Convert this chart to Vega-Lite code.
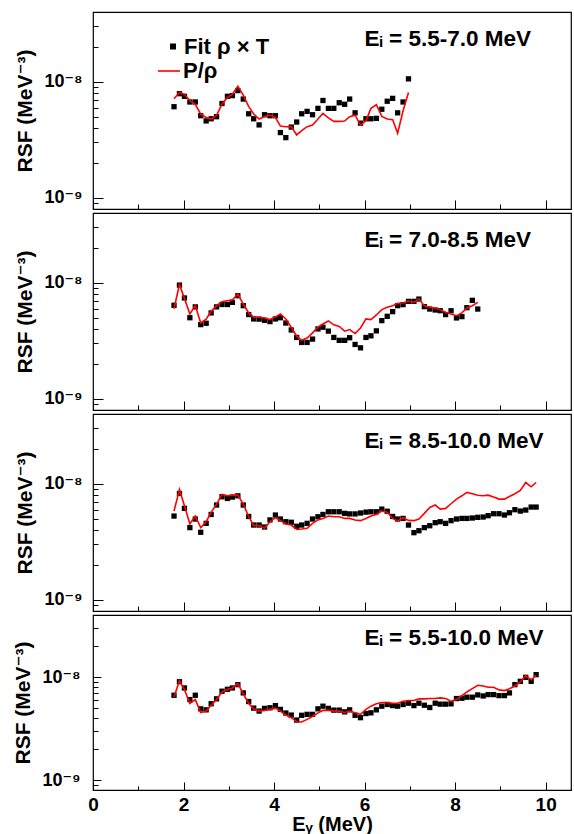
{
"$schema": "https://vega.github.io/schema/vega-lite/v6.json",
"padding": {"left": 12, "top": 10, "right": 0, "bottom": 0},
"autosize": {"type": "pad"},
"spacing": 0,
"config": {
  "view": {"stroke": "black", "strokeWidth": 1.2},
  "font": "Liberation Sans, DejaVu Sans, sans-serif",
  "axis": {"grid": false, "domain": false, "labelColor": "black", "titleColor": "black", "labelFontWeight": "bold", "titleFontWeight": "bold", "tickColor": "black", "tickWidth": 1, "labelOverlap": false}
},
"resolve": {"legend": {"color": "independent", "shape": "independent"}},
"datasets": {
"d1": [
{"E":1.79,"f":6.1e-9,"r":7.14e-9},{"E":1.91,"f":7.9e-9,"r":8.1e-9},{"E":2.02,"f":7.5e-9,"r":7.8e-9},{"E":2.14,"f":6.7e-9,"r":6.9e-9},{"E":2.26,"f":6.7e-9,"r":6.4e-9},{"E":2.38,"f":5.1e-9,"r":5.27e-9},{"E":2.50,"f":4.6e-9,"r":4.93e-9},{"E":2.61,"f":4.8e-9,"r":4.77e-9},{"E":2.73,"f":5.0e-9,"r":5.14e-9},{"E":2.85,"f":6.5e-9,"r":6.43e-9},{"E":2.97,"f":7.5e-9,"r":7.33e-9},{"E":3.08,"f":7.6e-9,"r":7.83e-9},{"E":3.20,"f":8.4e-9,"r":9.18e-9},{"E":3.32,"f":7.1e-9,"r":7.68e-9},{"E":3.44,"f":5.3e-9,"r":6.1e-9},{"E":3.55,"f":4.8e-9,"r":5.27e-9},{"E":3.67,"f":4.25e-9,"r":4.78e-9},{"E":3.79,"f":5.2e-9,"r":5.03e-9},{"E":3.91,"f":5.1e-9,"r":5.16e-9},{"E":4.03,"f":5.1e-9,"r":4.93e-9},{"E":4.14,"f":3.65e-9,"r":4.15e-9},{"E":4.26,"f":3.3e-9,"r":4.1e-9},{"E":4.38,"f":4.07e-9,"r":4.12e-9},{"E":4.50,"f":4.5e-9,"r":3.48e-9},{"E":4.61,"f":5.3e-9,"r":3.79e-9},{"E":4.73,"f":5.56e-9,"r":4.1e-9},{"E":4.85,"f":5.2e-9,"r":4.24e-9},{"E":4.97,"f":5.9e-9,"r":4.78e-9},{"E":5.08,"f":6.9e-9,"r":5.34e-9},{"E":5.20,"f":5.9e-9,"r":4.88e-9},{"E":5.32,"f":5.9e-9,"r":4.56e-9},{"E":5.44,"f":6.6e-9,"r":4.56e-9},{"E":5.56,"f":6.4e-9,"r":4.59e-9},{"E":5.67,"f":7.1e-9,"r":5.0e-9},{"E":5.79,"f":5.4e-9,"r":5.16e-9},{"E":5.91,"f":4.4e-9,"r":4.24e-9},{"E":6.03,"f":4.8e-9,"r":4.62e-9},{"E":6.14,"f":4.8e-9,"r":5.9e-9},{"E":6.26,"f":4.84e-9,"r":6.34e-9},{"E":6.38,"f":5.8e-9,"r":5.03e-9},{"E":6.50,"f":6.8e-9,"r":4.78e-9},{"E":6.62,"f":7.2e-9,"r":4.71e-9},{"E":6.73,"f":5.4e-9,"r":3.6e-9},{"E":6.85,"f":6.7e-9,"r":5.63e-9},{"E":6.97,"f":1.06e-8,"r":8.1e-9}
],
"d2": [
{"E":1.79,"f":6.4e-9,"r":5.98e-9},{"E":1.91,"f":9.55e-9,"r":9.68e-9},{"E":2.02,"f":7.4e-9,"r":7.34e-9},{"E":2.14,"f":5.0e-9,"r":5.38e-9},{"E":2.26,"f":6.2e-9,"r":6.35e-9},{"E":2.38,"f":4.36e-9,"r":4.51e-9},{"E":2.50,"f":4.48e-9,"r":4.85e-9},{"E":2.61,"f":5.5e-9,"r":5.68e-9},{"E":2.73,"f":6.2e-9,"r":6.35e-9},{"E":2.85,"f":6.5e-9,"r":6.87e-9},{"E":2.97,"f":6.5e-9,"r":7.01e-9},{"E":3.08,"f":6.78e-9,"r":7.15e-9},{"E":3.20,"f":7.74e-9,"r":8.0e-9},{"E":3.32,"f":6.35e-9,"r":6.56e-9},{"E":3.44,"f":5.32e-9,"r":5.5e-9},{"E":3.55,"f":4.88e-9,"r":5.05e-9},{"E":3.67,"f":4.86e-9,"r":5.05e-9},{"E":3.79,"f":4.75e-9,"r":4.98e-9},{"E":3.91,"f":4.63e-9,"r":4.82e-9},{"E":4.03,"f":4.88e-9,"r":5.08e-9},{"E":4.14,"f":5.0e-9,"r":5.38e-9},{"E":4.26,"f":4.5e-9,"r":4.88e-9},{"E":4.38,"f":3.92e-9,"r":4.14e-9},{"E":4.50,"f":3.38e-9,"r":3.47e-9},{"E":4.61,"f":3.06e-9,"r":3.19e-9},{"E":4.73,"f":3.06e-9,"r":3.34e-9},{"E":4.85,"f":3.27e-9,"r":3.7e-9},{"E":4.97,"f":4.0e-9,"r":4.14e-9},{"E":5.08,"f":4.14e-9,"r":4.42e-9},{"E":5.20,"f":3.83e-9,"r":4.69e-9},{"E":5.32,"f":3.38e-9,"r":4.34e-9},{"E":5.44,"f":3.19e-9,"r":4.2e-9},{"E":5.56,"f":3.19e-9,"r":3.83e-9},{"E":5.67,"f":3.36e-9,"r":3.95e-9},{"E":5.79,"f":2.94e-9,"r":3.65e-9},{"E":5.91,"f":2.75e-9,"r":4.08e-9},{"E":6.03,"f":3.38e-9,"r":4.88e-9},{"E":6.14,"f":3.49e-9,"r":4.82e-9},{"E":6.26,"f":3.85e-9,"r":5.28e-9},{"E":6.38,"f":4.72e-9,"r":5.87e-9},{"E":6.50,"f":5.14e-9,"r":6.15e-9},{"E":6.62,"f":5.64e-9,"r":6.35e-9},{"E":6.73,"f":6.35e-9,"r":6.65e-9},{"E":6.85,"f":6.48e-9,"r":6.7e-9},{"E":6.97,"f":6.92e-9,"r":6.97e-9},{"E":7.09,"f":6.92e-9,"r":6.78e-9},{"E":7.20,"f":7.24e-9,"r":7.24e-9},{"E":7.32,"f":6.23e-9,"r":6.35e-9},{"E":7.44,"f":5.94e-9,"r":6.15e-9},{"E":7.56,"f":5.83e-9,"r":6.03e-9},{"E":7.67,"f":5.75e-9,"r":5.87e-9},{"E":7.79,"f":5.32e-9,"r":5.57e-9},{"E":7.91,"f":5.74e-9,"r":5.38e-9},{"E":8.03,"f":4.98e-9,"r":5.21e-9},{"E":8.15,"f":5.11e-9,"r":5.5e-9},{"E":8.26,"f":6.1e-9,"r":6.07e-9},{"E":8.38,"f":7.06e-9,"r":6.35e-9},{"E":8.50,"f":5.94e-9,"r":6.78e-9}
],
"d3": [
{"E":1.79,"f":5.27e-9,"r":5.82e-9},{"E":1.91,"f":8.26e-9,"r":8.94e-9},{"E":2.02,"f":6.14e-9,"r":6.47e-9},{"E":2.14,"f":4.19e-9,"r":4.5e-9},{"E":2.26,"f":4.97e-9,"r":5.27e-9},{"E":2.38,"f":3.82e-9,"r":4.19e-9},{"E":2.50,"f":4.56e-9,"r":4.71e-9},{"E":2.61,"f":5.44e-9,"r":5.68e-9},{"E":2.73,"f":6.56e-9,"r":6.68e-9},{"E":2.85,"f":7.73e-9,"r":8.1e-9},{"E":2.97,"f":7.48e-9,"r":7.88e-9},{"E":3.08,"f":7.68e-9,"r":7.98e-9},{"E":3.20,"f":7.88e-9,"r":7.98e-9},{"E":3.32,"f":6.56e-9,"r":6.68e-9},{"E":3.44,"f":5.23e-9,"r":5.2e-9},{"E":3.55,"f":4.41e-9,"r":4.36e-9},{"E":3.67,"f":4.41e-9,"r":4.36e-9},{"E":3.79,"f":4.24e-9,"r":4.13e-9},{"E":3.91,"f":4.88e-9,"r":4.71e-9},{"E":4.03,"f":5.38e-9,"r":5.1e-9},{"E":4.14,"f":4.97e-9,"r":4.81e-9},{"E":4.26,"f":4.71e-9,"r":4.5e-9},{"E":4.38,"f":4.66e-9,"r":4.41e-9},{"E":4.50,"f":4.3e-9,"r":4.04e-9},{"E":4.61,"f":4.41e-9,"r":4.07e-9},{"E":4.73,"f":4.56e-9,"r":4.13e-9},{"E":4.85,"f":4.97e-9,"r":4.56e-9},{"E":4.97,"f":5.2e-9,"r":4.88e-9},{"E":5.08,"f":5.44e-9,"r":5.03e-9},{"E":5.20,"f":5.74e-9,"r":5.27e-9},{"E":5.32,"f":5.74e-9,"r":5.2e-9},{"E":5.44,"f":5.74e-9,"r":5.2e-9},{"E":5.56,"f":5.56e-9,"r":5.03e-9},{"E":5.67,"f":5.5e-9,"r":5.03e-9},{"E":5.79,"f":5.5e-9,"r":4.88e-9},{"E":5.91,"f":5.6e-9,"r":4.81e-9},{"E":6.03,"f":5.7e-9,"r":5.03e-9},{"E":6.14,"f":5.74e-9,"r":5.27e-9},{"E":6.26,"f":5.74e-9,"r":5.44e-9},{"E":6.38,"f":6.05e-9,"r":5.82e-9},{"E":6.50,"f":5.8e-9,"r":5.68e-9},{"E":6.62,"f":5.23e-9,"r":5.03e-9},{"E":6.73,"f":4.97e-9,"r":4.78e-9},{"E":6.85,"f":5.03e-9,"r":5.1e-9},{"E":6.97,"f":4.41e-9,"r":4.84e-9},{"E":7.09,"f":3.79e-9,"r":4.81e-9},{"E":7.20,"f":3.94e-9,"r":4.97e-9},{"E":7.32,"f":4.19e-9,"r":5.56e-9},{"E":7.44,"f":4.35e-9,"r":6.26e-9},{"E":7.56,"f":4.62e-9,"r":6.56e-9},{"E":7.67,"f":4.71e-9,"r":6.05e-9},{"E":7.79,"f":4.56e-9,"r":6.14e-9},{"E":7.91,"f":4.81e-9,"r":6.73e-9},{"E":8.03,"f":4.97e-9,"r":7.38e-9},{"E":8.15,"f":5.03e-9,"r":7.88e-9},{"E":8.26,"f":5.03e-9,"r":8.43e-9},{"E":8.38,"f":5.07e-9,"r":8.2e-9},{"E":8.50,"f":5.14e-9,"r":7.98e-9},{"E":8.62,"f":5.17e-9,"r":7.88e-9},{"E":8.73,"f":5.31e-9,"r":7.98e-9},{"E":8.85,"f":5.52e-9,"r":7.68e-9},{"E":8.97,"f":5.52e-9,"r":7.38e-9},{"E":9.09,"f":5.38e-9,"r":7.38e-9},{"E":9.20,"f":5.63e-9,"r":7.78e-9},{"E":9.32,"f":5.98e-9,"r":8.2e-9},{"E":9.44,"f":5.82e-9,"r":8.77e-9},{"E":9.56,"f":5.94e-9,"r":1.026e-8},{"E":9.68,"f":6.3e-9,"r":9.42e-9},{"E":9.79,"f":6.3e-9,"r":1.026e-8}
],
"d4": [
{"E":1.79,"f":6.65e-9,"r":6.41e-9},{"E":1.91,"f":9.0e-9,"r":9.22e-9},{"E":2.02,"f":7.83e-9,"r":7.55e-9},{"E":2.14,"f":6.04e-9,"r":5.53e-9},{"E":2.26,"f":6.65e-9,"r":6.04e-9},{"E":2.38,"f":4.91e-9,"r":4.53e-9},{"E":2.50,"f":4.8e-9,"r":4.67e-9},{"E":2.61,"f":5.5e-9,"r":5.33e-9},{"E":2.73,"f":6.14e-9,"r":6.04e-9},{"E":2.85,"f":7.28e-9,"r":7.16e-9},{"E":2.97,"f":7.6e-9,"r":7.55e-9},{"E":3.08,"f":7.83e-9,"r":7.83e-9},{"E":3.20,"f":8.43e-9,"r":8.63e-9},{"E":3.32,"f":7.01e-9,"r":6.85e-9},{"E":3.44,"f":5.78e-9,"r":5.53e-9},{"E":3.55,"f":4.99e-9,"r":4.91e-9},{"E":3.67,"f":4.67e-9,"r":4.67e-9},{"E":3.79,"f":4.96e-9,"r":4.74e-9},{"E":3.91,"f":5.03e-9,"r":4.85e-9},{"E":4.03,"f":5.28e-9,"r":4.99e-9},{"E":4.14,"f":4.85e-9,"r":4.67e-9},{"E":4.26,"f":4.47e-9,"r":4.27e-9},{"E":4.38,"f":4.27e-9,"r":4.03e-9},{"E":4.50,"f":3.82e-9,"r":3.68e-9},{"E":4.61,"f":4.25e-9,"r":3.66e-9},{"E":4.73,"f":4.34e-9,"r":3.88e-9},{"E":4.85,"f":4.34e-9,"r":4.14e-9},{"E":4.97,"f":4.91e-9,"r":4.49e-9},{"E":5.08,"f":5.21e-9,"r":4.74e-9},{"E":5.20,"f":4.96e-9,"r":4.74e-9},{"E":5.32,"f":4.77e-9,"r":4.67e-9},{"E":5.44,"f":4.77e-9,"r":4.67e-9},{"E":5.56,"f":4.59e-9,"r":4.53e-9},{"E":5.67,"f":4.8e-9,"r":4.67e-9},{"E":5.79,"f":4.25e-9,"r":4.49e-9},{"E":5.91,"f":4.03e-9,"r":4.34e-9},{"E":6.03,"f":4.42e-9,"r":4.85e-9},{"E":6.14,"f":4.49e-9,"r":5.21e-9},{"E":6.26,"f":4.8e-9,"r":5.49e-9},{"E":6.38,"f":5.21e-9,"r":5.65e-9},{"E":6.50,"f":5.41e-9,"r":5.65e-9},{"E":6.62,"f":5.28e-9,"r":5.57e-9},{"E":6.73,"f":5.21e-9,"r":5.57e-9},{"E":6.85,"f":5.41e-9,"r":5.82e-9},{"E":6.97,"f":5.57e-9,"r":5.91e-9},{"E":7.09,"f":5.28e-9,"r":5.91e-9},{"E":7.20,"f":5.57e-9,"r":6.14e-9},{"E":7.32,"f":5.32e-9,"r":6.14e-9},{"E":7.44,"f":5.06e-9,"r":6.18e-9},{"E":7.56,"f":5.57e-9,"r":6.18e-9},{"E":7.67,"f":5.45e-9,"r":6.27e-9},{"E":7.79,"f":5.45e-9,"r":6.18e-9},{"E":7.91,"f":5.49e-9,"r":5.82e-9},{"E":8.03,"f":6.18e-9,"r":6.04e-9},{"E":8.15,"f":6.22e-9,"r":6.6e-9},{"E":8.26,"f":6.37e-9,"r":7.16e-9},{"E":8.38,"f":6.37e-9,"r":7.71e-9},{"E":8.50,"f":6.7e-9,"r":8.32e-9},{"E":8.62,"f":6.55e-9,"r":8.19e-9},{"E":8.73,"f":6.75e-9,"r":7.95e-9},{"E":8.85,"f":6.75e-9,"r":7.95e-9},{"E":8.97,"f":6.6e-9,"r":7.5e-9},{"E":9.09,"f":6.6e-9,"r":7.38e-9},{"E":9.20,"f":7.01e-9,"r":7.71e-9},{"E":9.32,"f":8.43e-9,"r":8.19e-9},{"E":9.44,"f":9.08e-9,"r":8.95e-9},{"E":9.56,"f":9.93e-9,"r":1.03e-8},{"E":9.68,"f":9.08e-9,"r":9.4e-9},{"E":9.79,"f":1.054e-8,"r":1.037e-8}
]
},
"vconcat": [
{
 "width": 478, "height": 197,
 "layer": [
  {"data": {"name": "d1"},
   "mark": {"type": "point", "filled": true, "size": 28, "opacity": 1, "color": "black"},
   "encoding": {
    "x": {"field": "E", "type": "quantitative", "scale": {"domain": [0, 10.56], "nice": false, "zero": false},
          "axis": {"values": [0,0.5,1,1.5,2,2.5,3,3.5,4,4.5,5,5.5,6,6.5,7,7.5,8,8.5,9,9.5,10,10.5], "labels": false, "title": null,
                   "tickSize": {"condition": {"test": "datum.value % 2 === 0", "value": -9}, "value": -5}}},
    "y": {"field": "f", "type": "quantitative", "scale": {"type": "log", "domain": [8e-10, 4e-8], "nice": false},
          "axis": {"values": [9e-10,1e-9,2e-9,3e-9,4e-9,5e-9,6e-9,7e-9,8e-9,9e-9,1e-8,2e-8,3e-8,4e-8],
                   "labelExpr": "datum.value === 1e-8 ? '10⁻⁸' : (datum.value === 1e-9 ? '10⁻⁹' : '')",
                   "labelFontSize": {"condition": {"test": "datum.value === 1e-8 || datum.value === 1e-9", "value": 18}, "value": 0},
                   "labelPadding": 21,
                   "tickSize": {"condition": {"test": "datum.value === 1e-8 || datum.value === 1e-9", "value": -10}, "value": -5},
                   "title": "RSF (MeV⁻³)", "titleFontSize": 21, "titlePadding": 8}},
    "shape": {"datum": "Fit ρ × T", "type": "nominal", "scale": {"domain": ["Fit ρ × T"], "range": ["square"]},
              "legend": {"orient": "none", "legendX": 69, "legendY": 23.5, "title": null, "padding": 0,
                         "labelFontSize": 22, "labelFontWeight": "bold", "labelColor": "black", "labelOffset": 0,
                         "symbolSize": 36, "symbolFillColor": "black", "symbolStrokeColor": "black", "symbolStrokeWidth": 0, "symbolOpacity": 1}}
   }},
  {"data": {"name": "d1"},
   "mark": {"type": "line", "strokeWidth": 1.6},
   "encoding": {"x": {"field": "E", "type": "quantitative"}, "y": {"field": "r", "type": "quantitative"},
     "color": {"datum": "P/ρ", "type": "nominal", "scale": {"domain": ["P/ρ"], "range": ["#ff0000"]},
               "legend": {"orient": "none", "legendX": 64, "legendY": 47, "title": null, "padding": 0,
                          "labelFontSize": 22, "labelFontWeight": "bold", "labelColor": "black", "labelOffset": 2,
                          "symbolType": "stroke", "symbolSize": 484, "symbolStrokeWidth": 1.6, "symbolStrokeColor": "#ff0000", "symbolOpacity": 1}}}},
  {"data": {"values": [{"t": "Eᵢ = 5.5-7.0 MeV"}]},
   "mark": {"type": "text", "align": "left", "baseline": "alphabetic", "fontSize": 22.5, "fontWeight": "bold", "color": "black"},
   "encoding": {"x": {"datum": 6.0}, "y": {"datum": 2.05e-8}, "text": {"field": "t"}}}
 ]
},
{
 "width": 478, "height": 197,
 "layer": [
  {"data": {"name": "d2"},
   "mark": {"type": "point", "shape": "square", "filled": true, "size": 28, "opacity": 1, "color": "black"},
   "encoding": {
    "x": {"field": "E", "type": "quantitative", "scale": {"domain": [0, 10.56], "nice": false, "zero": false},
          "axis": {"values": [0,0.5,1,1.5,2,2.5,3,3.5,4,4.5,5,5.5,6,6.5,7,7.5,8,8.5,9,9.5,10,10.5], "labels": false, "title": null,
                   "tickSize": {"condition": {"test": "datum.value % 2 === 0", "value": -9}, "value": -5}}},
    "y": {"field": "f", "type": "quantitative", "scale": {"type": "log", "domain": [8e-10, 4e-8], "nice": false},
          "axis": {"values": [9e-10,1e-9,2e-9,3e-9,4e-9,5e-9,6e-9,7e-9,8e-9,9e-9,1e-8,2e-8,3e-8,4e-8],
                   "labelExpr": "datum.value === 1e-8 ? '10⁻⁸' : (datum.value === 1e-9 ? '10⁻⁹' : '')",
                   "labelFontSize": {"condition": {"test": "datum.value === 1e-8 || datum.value === 1e-9", "value": 18}, "value": 0},
                   "labelPadding": 21,
                   "tickSize": {"condition": {"test": "datum.value === 1e-8 || datum.value === 1e-9", "value": -10}, "value": -5},
                   "title": "RSF (MeV⁻³)", "titleFontSize": 21, "titlePadding": 8}}
   }},
  {"data": {"name": "d2"},
   "mark": {"type": "line", "strokeWidth": 1.6, "color": "#ff0000"},
   "encoding": {"x": {"field": "E", "type": "quantitative"}, "y": {"field": "r", "type": "quantitative"}}},
  {"data": {"values": [{"t": "Eᵢ = 7.0-8.5 MeV"}]},
   "mark": {"type": "text", "align": "left", "baseline": "alphabetic", "fontSize": 22.5, "fontWeight": "bold", "color": "black"},
   "encoding": {"x": {"datum": 6.0}, "y": {"datum": 2.05e-8}, "text": {"field": "t"}}}
 ]
},
{
 "width": 478, "height": 197,
 "layer": [
  {"data": {"name": "d3"},
   "mark": {"type": "point", "shape": "square", "filled": true, "size": 28, "opacity": 1, "color": "black"},
   "encoding": {
    "x": {"field": "E", "type": "quantitative", "scale": {"domain": [0, 10.56], "nice": false, "zero": false},
          "axis": {"values": [0,0.5,1,1.5,2,2.5,3,3.5,4,4.5,5,5.5,6,6.5,7,7.5,8,8.5,9,9.5,10,10.5], "labels": false, "title": null,
                   "tickSize": {"condition": {"test": "datum.value % 2 === 0", "value": -9}, "value": -5}}},
    "y": {"field": "f", "type": "quantitative", "scale": {"type": "log", "domain": [8e-10, 4e-8], "nice": false},
          "axis": {"values": [9e-10,1e-9,2e-9,3e-9,4e-9,5e-9,6e-9,7e-9,8e-9,9e-9,1e-8,2e-8,3e-8,4e-8],
                   "labelExpr": "datum.value === 1e-8 ? '10⁻⁸' : (datum.value === 1e-9 ? '10⁻⁹' : '')",
                   "labelFontSize": {"condition": {"test": "datum.value === 1e-8 || datum.value === 1e-9", "value": 18}, "value": 0},
                   "labelPadding": 21,
                   "tickSize": {"condition": {"test": "datum.value === 1e-8 || datum.value === 1e-9", "value": -10}, "value": -5},
                   "title": "RSF (MeV⁻³)", "titleFontSize": 21, "titlePadding": 8}}
   }},
  {"data": {"name": "d3"},
   "mark": {"type": "line", "strokeWidth": 1.6, "color": "#ff0000"},
   "encoding": {"x": {"field": "E", "type": "quantitative"}, "y": {"field": "r", "type": "quantitative"}}},
  {"data": {"values": [{"t": "Eᵢ = 8.5-10.0 MeV"}]},
   "mark": {"type": "text", "align": "left", "baseline": "alphabetic", "fontSize": 22.5, "fontWeight": "bold", "color": "black"},
   "encoding": {"x": {"datum": 6.0}, "y": {"datum": 2.05e-8}, "text": {"field": "t"}}}
 ]
},
{
 "width": 478, "height": 175,
 "layer": [
  {"data": {"name": "d4"},
   "mark": {"type": "point", "shape": "square", "filled": true, "size": 28, "opacity": 1, "color": "black"},
   "encoding": {
    "x": {"field": "E", "type": "quantitative", "scale": {"domain": [0, 10.56], "nice": false, "zero": false},
          "axis": {"values": [0,0.5,1,1.5,2,2.5,3,3.5,4,4.5,5,5.5,6,6.5,7,7.5,8,8.5,9,9.5,10,10.5],
                   "labelExpr": "datum.value % 2 === 0 ? datum.label : ''", "labelFlush": false,
                   "labelFontSize": {"condition": {"test": "datum.value % 2 === 0", "value": 19}, "value": 0},
                   "labelPadding": 13,
                   "tickSize": {"condition": {"test": "datum.value % 2 === 0", "value": -8}, "value": -4},
                   "title": "Eᵧ (MeV)", "titleFontSize": 20, "titlePadding": 0}},
    "y": {"field": "f", "type": "quantitative", "scale": {"type": "log", "domain": [8e-10, 4e-8], "nice": false},
          "axis": {"values": [9e-10,1e-9,2e-9,3e-9,4e-9,5e-9,6e-9,7e-9,8e-9,9e-9,1e-8,2e-8,3e-8,4e-8],
                   "labelExpr": "datum.value === 1e-8 ? '10⁻⁸' : (datum.value === 1e-9 ? '10⁻⁹' : '')",
                   "labelFontSize": {"condition": {"test": "datum.value === 1e-8 || datum.value === 1e-9", "value": 18}, "value": 0},
                   "labelPadding": 21,
                   "tickSize": {"condition": {"test": "datum.value === 1e-8 || datum.value === 1e-9", "value": -8}, "value": -5},
                   "title": "RSF (MeV⁻³)", "titleFontSize": 21, "titlePadding": 8}}
   }},
  {"data": {"name": "d4"},
   "mark": {"type": "line", "strokeWidth": 1.6, "color": "#ff0000"},
   "encoding": {"x": {"field": "E", "type": "quantitative"}, "y": {"field": "r", "type": "quantitative"}}},
  {"data": {"values": [{"t": "Eᵢ = 5.5-10.0 MeV"}]},
   "mark": {"type": "text", "align": "left", "baseline": "alphabetic", "fontSize": 22.5, "fontWeight": "bold", "color": "black"},
   "encoding": {"x": {"datum": 6.0}, "y": {"datum": 2.05e-8}, "text": {"field": "t"}}}
 ]
}
]
}
